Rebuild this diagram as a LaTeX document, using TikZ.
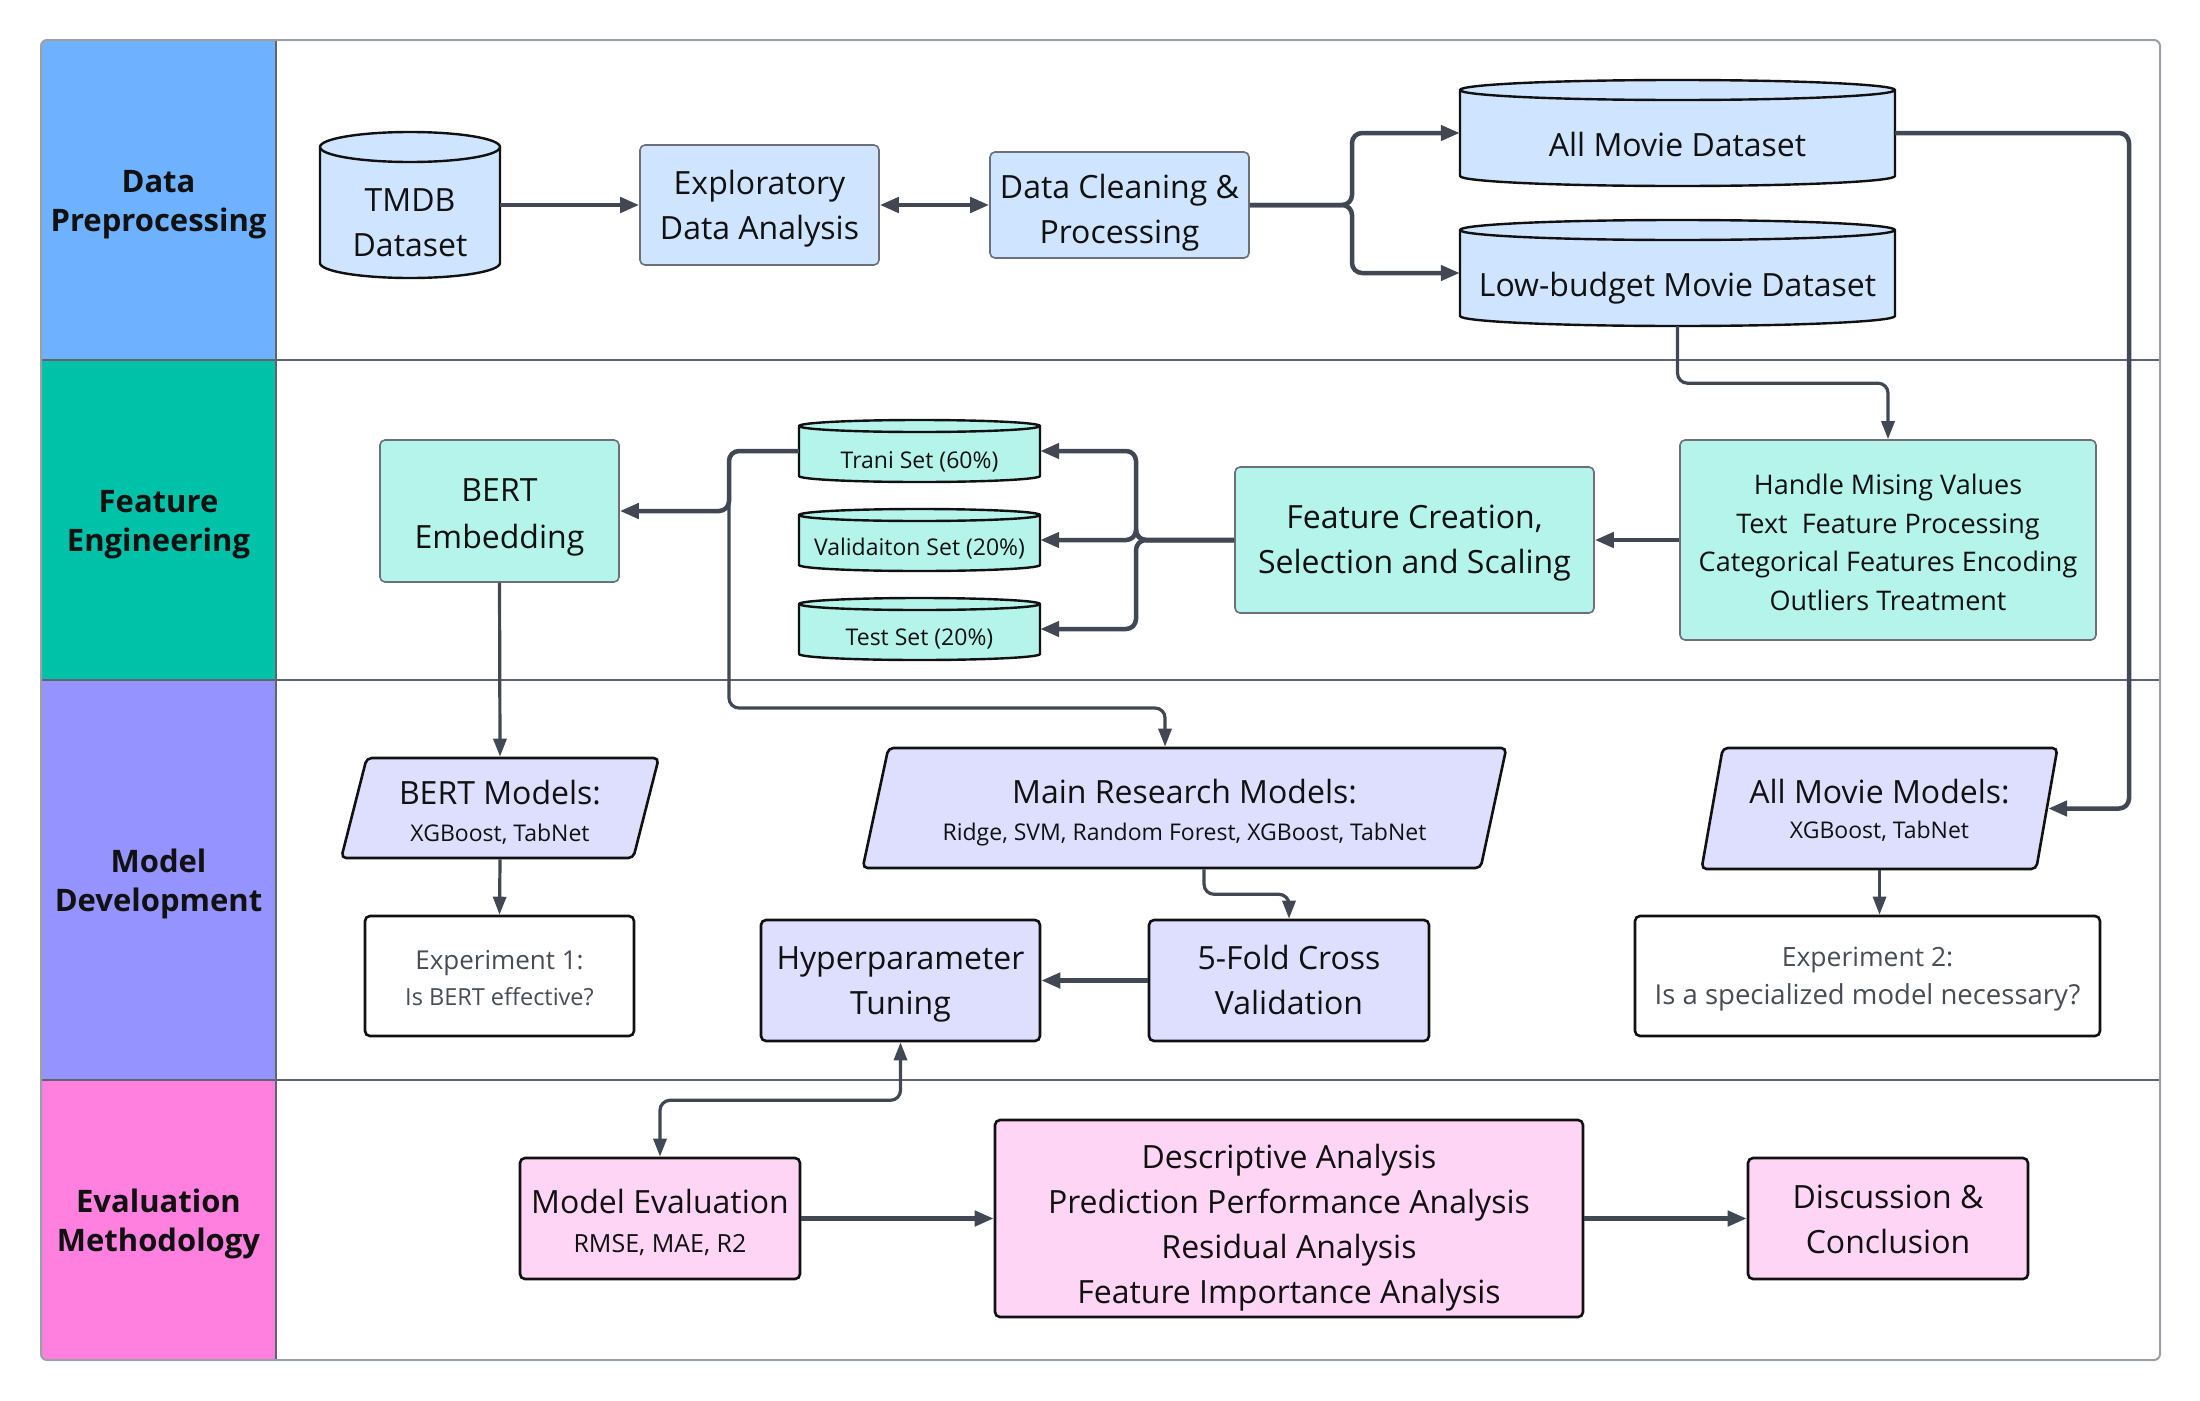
\documentclass[tikz,border=0pt]{standalone}
\usepackage{fontspec}
\setmainfont{Open Sans}
\usetikzlibrary{arrows.meta,shapes.geometric,calc}
\definecolor{dpL}{HTML}{6EB1FF}
\definecolor{feL}{HTML}{00C2A8}
\definecolor{mdL}{HTML}{9493FF}
\definecolor{emL}{HTML}{FF80DF}
\definecolor{dpF}{HTML}{CFE4FF}
\definecolor{feF}{HTML}{B4F4EA}
\definecolor{mdF}{HTML}{DEDEFF}
\definecolor{emF}{HTML}{FFD5F5}
\definecolor{linec}{HTML}{414853}
\definecolor{frameC}{HTML}{9AA0A6}
\definecolor{divC}{HTML}{5F6570}
\definecolor{boxgray}{HTML}{6B7079}
\definecolor{expT}{HTML}{474C55}
\definecolor{ink}{HTML}{111111}

\newcommand\myfs[2]{\fontsize{#1}{#2}\selectfont}
% struts: height-only and depth-only, to fix the text block's box
\newcommand\sth[1]{\rule{0pt}{#1pt}}
\newcommand\std[1]{\rule[-#1pt]{0pt}{#1pt}}

\newcommand\cylinder[6]{% l t r b e fill
 \pgfmathsetmacro\cylcx{(#1+#3)/2}
 \pgfmathsetmacro\cylkx{0.5523*(#3-#1)/2}
 \pgfmathsetmacro\cylta{#2+#5}
 \pgfmathsetmacro\cylba{#4-#5}
 \pgfmathsetmacro\cylk{0.5523*#5}
 \pgfmathsetmacro\cyltb{#2+2*#5}
 \filldraw[fill=#6, draw=ink, line width=2.4pt, line join=round]
  (#1,\cylta) -- (#1,\cylba)
  .. controls (#1,\cylba+\cylk) and (\cylcx-\cylkx,#4) .. (\cylcx,#4)
  .. controls (\cylcx+\cylkx,#4) and (#3,\cylba+\cylk) .. (#3,\cylba)
  -- (#3,\cylta)
  .. controls (#3,\cylta-\cylk) and (\cylcx+\cylkx,#2) .. (\cylcx,#2)
  .. controls (\cylcx-\cylkx,#2) and (#1,\cylta-\cylk) .. cycle;
 \draw[draw=ink, line width=2.4pt]
  (#1,\cylta) .. controls (#1,\cylta+\cylk) and (\cylcx-\cylkx,\cyltb) .. (\cylcx,\cyltb)
  .. controls (\cylcx+\cylkx,\cyltb) and (#3,\cylta+\cylk) .. (#3,\cylta);
}

\tikzset{
 tipA/.tip={Triangle[length=19pt,width=15pt]},
 tipB/.tip={Triangle[length=18pt,width=13pt]},
 base/.style={align=center, inner sep=0pt, text=ink},
 softbox/.style={base, rectangle, rounded corners=5pt, draw=boxgray, line width=1.6pt, font=\myfs{32}{45}},
 hardbox/.style={base, rectangle, rounded corners=5pt, draw=ink, line width=2.6pt, font=\myfs{32}{45}},
 para/.style={base, trapezium, trapezium left angle=76.5, trapezium right angle=103.5, trapezium stretches=true, rounded corners=5pt, draw=ink, line width=2.6pt, fill=mdF},
 anchorbox/.style={base, rectangle, draw=none},
 lbl/.style={base, font=\myfs{31}{38.3}\bfseries},
 conn/.style={draw=linec, line width=4.5pt, rounded corners=10pt, -tipA},
 thinconn/.style={draw=linec, line width=3.2pt, rounded corners=10pt, -tipB},
}

\begin{document}
\begin{tikzpicture}[x=1pt,y=-1pt]
\useasboundingbox (0,0) rectangle (2200,1400);
\fill[white] (0,0) rectangle (2200,1400);

% swimlanes
\begin{scope}
\clip[rounded corners=6pt] (41,40) rectangle (2160,1360);
\fill[dpL] (41,40) rectangle (276,360);
\fill[feL] (41,360) rectangle (276,680);
\fill[mdL] (41,680) rectangle (276,1080);
\fill[emL] (41,1080) rectangle (276,1360);
\end{scope}
\draw[divC, line width=1.8pt] (41,360) -- (2160,360);
\draw[divC, line width=1.8pt] (41,680) -- (2160,680);
\draw[divC, line width=1.8pt] (41,1080) -- (2160,1080);
\draw[divC, line width=1.5pt] (276,40) -- (276,1360);
\draw[frameC, line width=2pt, rounded corners=6pt] (41,40) rectangle (2160,1360);

\node[lbl] (l1) at (158.5,200) {\sth{31.7}Data\\Preprocessing\std{8}};
\node[lbl] (l2) at (158.5,520) {\sth{31.7}Feature\\Engineering\std{8}};
\node[lbl] (l3) at (158.5,880) {\sth{31.7}Model\\Development\std{8}};
\node[lbl] (l4) at (158.5,1220) {\sth{31.7}Evaluation\\Methodology\std{8}};

% ---------- Data preprocessing
\cylinder{320}{132}{500}{278}{15}{dpF}
\node[anchorbox, minimum width=180, minimum height=146] (tmdb) at (410,205) {};
\node[base, font=\myfs{32}{45}] (tmdbT) at (410,222.5) {\sth{30.8}TMDB\\Dataset\std{8}};

\node[softbox, fill=dpF, minimum width=239, minimum height=120] (eda) at (759.5,205) {\sth{31.8}Exploratory\\Data Analysis\std{8}};
\node[softbox, fill=dpF, minimum width=259, minimum height=106] (dcp) at (1119.5,205) {\sth{39}Data Cleaning \&\\Processing\std{8}};

\cylinder{1460}{80}{1895}{186}{10}{dpF}
\node[anchorbox, minimum width=435, minimum height=106] (allmov) at (1677.5,133) {};
\node[base, font=\myfs{32}{45}] (allmovT) at (1677.5,145) {\sth{30.8}All Movie Dataset\std{8}};

\cylinder{1460}{220}{1895}{326}{10}{dpF}
\node[anchorbox, minimum width=435, minimum height=106] (low) at (1677.5,273) {};
\node[base, font=\myfs{32}{45}] (lowT) at (1677.5,285) {\sth{30.8}Low-budget Movie Dataset\std{8}};

% ---------- Feature engineering
\node[softbox, fill=feF, minimum width=416, minimum height=200, font=\myfs{27}{38.6}] (handle) at (1888,540) {\sth{32.9}Handle Mising Values\\Text\ \ Feature Processing\\Categorical Features Encoding\\Outliers Treatment\std{8}};
\node[softbox, fill=feF, minimum width=359, minimum height=146] (fc) at (1414.5,540) {\sth{29.8}Feature Creation,\\Selection and Scaling\std{8}};

\cylinder{799}{420}{1040}{482}{6}{feF}
\node[anchorbox, minimum width=241, minimum height=62] (train) at (919.5,451) {};
\node[base, font=\myfs{23}{30}] (trainT) at (919.5,460) {\sth{23.4}Trani Set (60\%)\std{7}};
\cylinder{799}{509}{1040}{571}{6}{feF}
\node[anchorbox, minimum width=241, minimum height=62] (val) at (919.5,540) {};
\node[base, font=\myfs{23}{30}] (valT) at (919.5,547) {\sth{23.4}Validaiton Set (20\%)\std{7}};
\cylinder{799}{598}{1040}{660}{6}{feF}
\node[anchorbox, minimum width=241, minimum height=62] (test) at (919.5,629) {};
\node[base, font=\myfs{23}{30}] (testT) at (919.5,637) {\sth{23.4}Test Set (20\%)\std{7}};

\node[softbox, fill=feF, minimum width=239, minimum height=142, font=\myfs{32}{46.7}] (bertemb) at (499.5,511) {\sth{35.5}BERT\\Embedding\std{8}};

% ---------- Model development
\node[para, minimum width=318, minimum height=100, font=\myfs{23}{36.8}] (bertm) at (500,808) {{\myfs{32}{36.8}\sth{36.6}BERT Models:}\\XGBoost, TabNet\std{7}};
\node[hardbox, fill=white, text=expT, minimum width=269, minimum height=120, font=\myfs{23.5}{36.1}] (exp1) at (499.5,976) {{\myfs{26}{36.1}\sth{29.7}Experiment 1:}\\Is BERT effective?\std{7}};

\node[para, trapezium left angle=75, trapezium right angle=105, minimum width=647, minimum height=120, font=\myfs{23}{36.8}] (main) at (1184.5,808) {{\myfs{32}{36.8}\sth{34.6}Main Research Models:}\\Ridge, SVM, Random Forest, XGBoost, TabNet\std{7}};
\node[hardbox, fill=mdF, minimum width=280, minimum height=121] (fold) at (1289,980.5) {\sth{30.8}5-Fold Cross\\Validation\std{8}};
\node[hardbox, fill=mdF, minimum width=279, minimum height=121] (hyper) at (900.5,980.5) {\sth{30.8}Hyperparameter\\Tuning\std{8}};

\node[para, minimum width=357, minimum height=121, font=\myfs{23}{35.1}] (allmodels) at (1879.5,808.5) {{\myfs{32}{35.1}\sth{31.3}All Movie Models:}\\XGBoost, TabNet\std{7}};
\node[hardbox, fill=white, text=expT, minimum width=465, minimum height=120, font=\myfs{27.5}{38.6}] (exp2) at (1867.5,976) {{\myfs{26.5}{38.6}\sth{27}Experiment 2:}\\Is a specialized model necessary?\std{8}};

% ---------- Evaluation
\node[hardbox, fill=emF, minimum width=280, minimum height=121, font=\myfs{25}{38.6}] (me) at (660,1218.5) {{\myfs{32}{38.6}\sth{36.4}Model Evaluation}\\RMSE, MAE, R2\std{8}};
\node[hardbox, fill=emF, minimum width=588, minimum height=197] (ana) at (1289,1218.5) {\sth{42.2}Descriptive Analysis\\Prediction Performance Analysis\\Residual Analysis\\Feature Importance Analysis\std{8}};
\node[hardbox, fill=emF, minimum width=280, minimum height=121] (disc) at (1888,1218.5) {\sth{32.2}Discussion \&\\Conclusion\std{8}};

% ---------- connectors
\draw[conn] (tmdb.east) -- (eda.west);
\draw[conn, tipA-tipA] (eda.east) -- (dcp.west);
\coordinate (s1) at (1352,205);
\draw[conn] (dcp.east) -- (s1) |- (allmov.west);
\draw[conn] (dcp.east) -- (s1) |- (low.west);
\coordinate (c1) at (2129,808.5);
\draw[conn] (allmov.east) -| (c1) -- (allmodels.east);
\draw[thinconn] (low.south) -- ++(0,57) -| (handle.north);

\draw[conn] (handle.west) -- (fc.east);
\coordinate (s2) at (1136,540);
\draw[conn] (fc.west) -- (s2) |- (train.east);
\draw[conn] (fc.west) -- (s2) |- (val.east);
\draw[conn] (fc.west) -- (s2) |- (test.east);
\coordinate (tb) at (729,511);
\draw[conn] (train.west) -| (tb) -- (bertemb.east);
\coordinate (tm) at (729,708);
\draw[thinconn] (train.west) -| (tm) -| ($(main.north)+(-19.5,0)$);

\draw[thinconn] (bertemb.south) -- (bertm.north);
\draw[thinconn] (bertm.south) -- (exp1.north);
\draw[thinconn] ($(main.south)+(19.5,0)$) -- ++(0,25) -| (fold.north);
\draw[conn] (fold.west) -- (hyper.east);
\draw[thinconn] (allmodels.south) -- (allmodels.south |- exp2.north);
\draw[thinconn, tipB-tipB] (hyper.south) -- ++(0,58) -| (me.north);
\draw[conn] (me.east) -- (ana.west);
\draw[conn] (ana.east) -- (disc.west);
\end{tikzpicture}
\end{document}
